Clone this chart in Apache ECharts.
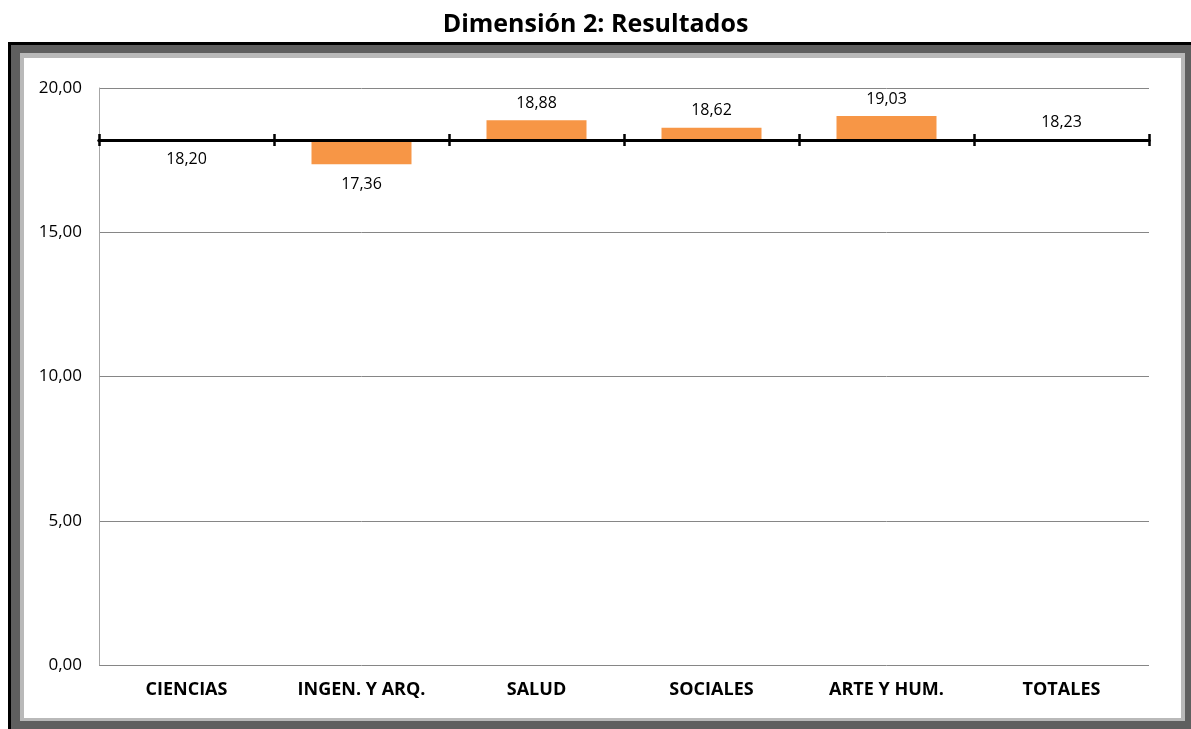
<!DOCTYPE html>
<html>
<head>
<meta charset="utf-8">
<script src="https://cdn.jsdelivr.net/npm/echarts@6/dist/echarts.min.js"></script>
<style>
  html, body { margin: 0; padding: 0; background: #fff; }
  #chart { width: 1191px; height: 729px; }
</style>
</head>
<body>
<div id="chart"></div>
<script>
// Datos del gráfico
const categorias = ["CIENCIAS", "INGEN. Y ARQ.", "SALUD", "SOCIALES", "ARTE Y HUM.", "TOTALES"];
const resultados = [18.20, 17.36, 18.88, 18.62, 19.03, 18.23];
const lineaBase = 18.20; // el eje horizontal cruza aquí
const ticksY = [0, 5, 10, 15, 20];

const fuente = "Open Sans";
const formato = (v) => v.toFixed(2).replace(".", ",");

const chart = echarts.init(document.getElementById("chart"));

const option = {
    animation: false,
    title: {
        text: "Dimensión 2: Resultados",
        left: "center",
        top: 7,
        textStyle: { fontFamily: fuente, fontSize: 25, fontWeight: "bold", color: "#000" }
    },
    // marco del gráfico
    graphic: [
        { type: "rect", z: -10, shape: { x: 8, y: 42, width: 1200, height: 700 }, style: { fill: "#000" } },
        { type: "rect", z: -9, shape: { x: 11, y: 45, width: 1200, height: 700 }, style: { fill: "#5f5f5f" } },
        { type: "rect", z: -8, shape: { x: 20, y: 53, width: 1165, height: 668 }, style: { fill: "#b9b9b9" } },
        { type: "rect", z: -7, shape: { x: 24, y: 58, width: 1157, height: 660 }, style: { fill: "#fff" } }
    ],
    grid: { left: 99, right: 42, top: 88, bottom: 64 },
    xAxis: [
        {
            type: "category",
            position: "bottom",
            data: categorias,
            axisLine: { show: false, onZero: false },
            axisTick: { show: false },
            axisLabel: { fontFamily: fuente, fontSize: 18, fontWeight: "bold", color: "#000", margin: 16 }
        },
        // eje horizontal cruzando en la línea base (marcas hacia abajo)
        {
            type: "category",
            position: "bottom",
            z: 5,
            data: categorias,
            axisLine: { show: true, onZero: true, onZeroAxisIndex: 1, lineStyle: { color: "#000", width: 3 } },
            axisTick: { show: true, inside: false, length: 6, lineStyle: { color: "#000", width: 2.5 } },
            axisLabel: { show: false }
        },
        // mismas marcas hacia arriba
        {
            type: "category",
            position: "bottom",
            z: 5,
            data: categorias,
            axisLine: { show: true, onZero: true, onZeroAxisIndex: 1, lineStyle: { color: "#000", width: 3 } },
            axisTick: { show: true, inside: true, length: 6, lineStyle: { color: "#000", width: 2.5 } },
            axisLabel: { show: false }
        }
    ],
    yAxis: [
        {
            type: "value",
            min: ticksY[0],
            max: ticksY[ticksY.length - 1],
            interval: 5,
            axisLine: { show: true, lineStyle: { color: "#a6a6a6", width: 1 } },
            axisTick: { show: false },
            splitLine: { lineStyle: { color: "#868686", width: 1 } },
            axisLabel: { fontFamily: fuente, fontSize: 17, color: "#000", margin: 17, formatter: formato }
        },
        {
            // eje auxiliar: su cero coincide con la línea base
            type: "value",
            show: false,
            min: ticksY[0] - lineaBase,
            max: ticksY[ticksY.length - 1] - lineaBase,
            splitLine: { show: false }
        }
    ],
    series: [
        {
            type: "bar",
            xAxisIndex: 1,
            yAxisIndex: 1,
            barWidth: 100,
            itemStyle: { color: "#f79646" },
            z: 2,
            data: resultados.map((v) => ({
                value: v - lineaBase,
                label: v > lineaBase
                    ? { position: "top", distance: 9 }
                    : { position: "bottom", distance: 12 }
            })),
            label: {
                show: true,
                fontFamily: fuente,
                fontSize: 16,
                color: "#000",
                formatter: (p) => formato(resultados[p.dataIndex])
            }
        }
    ]
};

chart.setOption(option);
</script>
</body>
</html>
